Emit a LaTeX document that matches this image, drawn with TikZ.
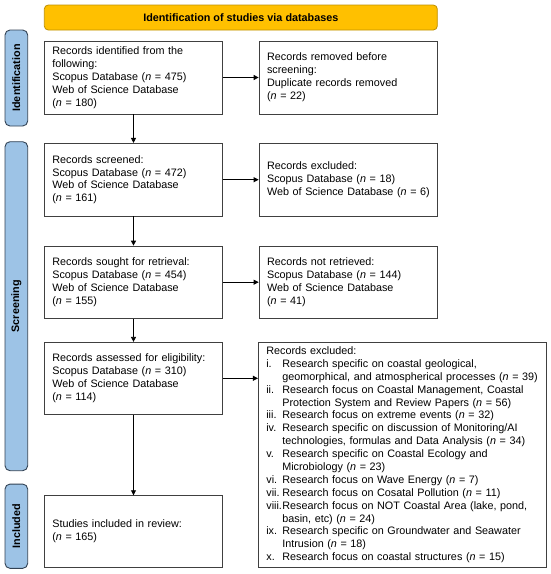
\documentclass[tikz,border=0pt]{standalone}
\usepackage{fontspec}
\setmainfont{Liberation Sans}
\usetikzlibrary{arrows.meta}
\definecolor{bannerfill}{RGB}{255,192,0}
\definecolor{bannerdraw}{RGB}{191,144,0}
\definecolor{sidefill}{RGB}{157,195,230}
\definecolor{sidedraw}{RGB}{50,66,84}
\definecolor{boxdraw}{RGB}{64,64,64}
\newcommand{\bxfont}{\fontsize{10.8}{12.9}\selectfont}
\newcommand{\nn}{\textit{n}}
\newcommand{\itm}[1]{\makebox[16pt][l]{#1}}
\newcommand{\ind}{\hspace*{16pt}}
\begin{document}
\begin{tikzpicture}[x=1pt,y=-1pt,
  box/.style={draw=boxdraw, line width=0.8pt, fill=white, inner xsep=8pt, inner ysep=0pt, align=left, font=\bxfont, anchor=center},
  side/.style={draw=sidedraw, line width=0.9pt, fill=sidefill, rounded corners=5pt, rotate=90, font=\bxfont\bfseries, inner sep=0pt, anchor=center},
  banner/.style={draw=bannerdraw, line width=0.8pt, fill=bannerfill, rounded corners=4pt, font=\bxfont\bfseries, inner sep=0pt, anchor=center},
  arr/.style={-{Triangle[length=5pt,width=5pt]}, line width=0.8pt, black}]
\useasboundingbox (0,0) rectangle (550,574);
\node[banner, minimum width=393pt, minimum height=25pt] (ban) at (240.8,17.5) {Identification of studies via databases};
\node[side, minimum width=96pt, minimum height=22.7pt] (lab1) at (16.35,78) {Identification};
\node[side, minimum width=329pt, minimum height=22.7pt] (lab2) at (16.35,306.2) {Screening};
\node[side, minimum width=84.3pt, minimum height=22.7pt] (lab3) at (16.35,526.2) {Included};
\node[box, minimum width=178.4pt, minimum height=73pt, text width=162.4pt] (b1) at (133.5,77.5) {Records identified from the\\following:\\Scopus Database (\nn{} = 475)\\Web of Science Database\\(\nn{} = 180)};
\node[box, minimum width=178.3pt, minimum height=73pt, text width=162.3pt] (b2) at (348.2,77.5) {Records removed before\\screening:\\Duplicate records removed\\(\nn{} = 22)};
\node[box, minimum width=178.4pt, minimum height=72.7pt, text width=162.4pt] (b3) at (133.5,179.7) {Records screened:\\Scopus Database (\nn{} = 472)\\Web of Science Database\\(\nn{} = 161)};
\node[box, minimum width=178.3pt, minimum height=72.7pt, text width=162.3pt] (b4) at (348.2,179.7) {Records excluded:\\Scopus Database (\nn{} = 18)\\\mbox{Web of Science Database (\nn{} = 6)}};
\node[box, minimum width=178.4pt, minimum height=72.3pt, text width=162.4pt] (b5) at (133.5,282.2) {Records sought for retrieval:\\Scopus Database (\nn{} = 454)\\Web of Science Database\\(\nn{} = 155)};
\node[box, minimum width=178.3pt, minimum height=72.3pt, text width=162.3pt] (b6) at (348.2,282.2) {Records not retrieved:\\Scopus Database (\nn{} = 144)\\Web of Science Database\\(\nn{} = 41)};
\node[box, minimum width=178.4pt, minimum height=72pt, text width=162.4pt] (b7) at (133.5,378.3) {Records assessed for eligibility:\\Scopus Database (\nn{} = 310)\\Web of Science Database\\(\nn{} = 114)};
\node[box, minimum width=287.7pt, minimum height=225pt, text width=271.7pt] (big) at (402.2,454.8) {Records excluded:\\
\itm{i.}Research specific on coastal geological,\\
\ind\mbox{geomorphical, and atmospherical processes (\nn{} = 39)}\\
\itm{ii.}Research focus on Coastal Management, Coastal\\
\ind Protection System and Review Papers (\nn{} = 56)\\
\itm{iii.}Research focus on extreme events (\nn{} = 32)\\
\itm{iv.}Research specific on discussion of Monitoring/AI\\
\ind\mbox{technologies, formulas and Data Analysis (\nn{} = 34)}\\
\itm{v.}Research specific on Coastal Ecology and\\
\ind Microbiology (\nn{} = 23)\\
\itm{vi.}Research focus on Wave Energy (\nn{} = 7)\\
\itm{vii.}Research focus on Cosatal Pollution (\nn{} = 11)\\
\itm{viii.}\mbox{Research focus on NOT Coastal Area (lake, pond,}\\
\ind basin, etc) (\nn{} = 24)\\
\itm{ix.}Research specific on Groundwater and Seawater\\
\ind Intrusion (\nn{} = 18)\\
\itm{x.}Research focus on coastal structures (\nn{} = 15)};
\node[box, minimum width=178.4pt, minimum height=71.6pt, text width=162.4pt] (b8) at (133.5,531.5) {Studies included in review:\\(\nn{} = 165)};
\draw[arr] (b1) -- (b2);
\draw[arr] (b1) -- (b3);
\draw[arr] (b3) -- (b4);
\draw[arr] (b3) -- (b5);
\draw[arr] (b5) -- (b6);
\draw[arr] (b5) -- (b7);
\draw[arr] (b7.east) -- (b7.east -| big.west);
\draw[arr] (b7) -- (b8);
\end{tikzpicture}
\end{document}
